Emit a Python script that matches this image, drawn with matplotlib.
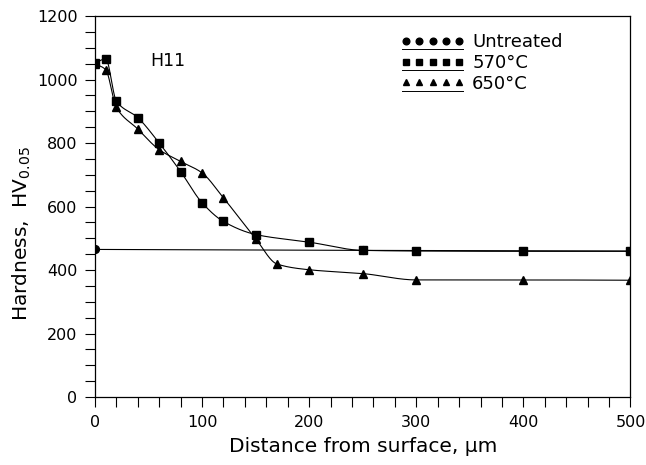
import numpy as np
import matplotlib
matplotlib.use("Agg")
import matplotlib.pyplot as plt
from matplotlib.lines import Line2D
from matplotlib.legend_handler import HandlerBase
from matplotlib.ticker import MultipleLocator

# ---- data ----
untreated_x = [0, 250, 500]
untreated_y = [465, 462, 460]

t570_x = [0, 10, 20, 40, 60, 80, 100, 120, 150, 200, 250, 300, 400, 500]
t570_y = [1052, 1065, 932, 880, 800, 710, 612, 553, 512, 488, 462, 460, 459, 459]

t650_x = [0, 10, 20, 40, 60, 80, 100, 120, 150, 170, 200, 250, 300, 400, 500]
t650_y = [1050, 1031, 912, 844, 779, 742, 706, 627, 499, 419, 401, 389, 369, 369, 368]

series_labels = ["Untreated", "570°C", "650°C"]


def pchip(x, y, xs):
    x = np.asarray(x, float); y = np.asarray(y, float)
    h = np.diff(x); d = np.diff(y) / h
    n = len(x); m = np.zeros(n)
    for k in range(1, n - 1):
        if d[k - 1] * d[k] > 0:
            w1 = 2 * h[k] + h[k - 1]; w2 = h[k] + 2 * h[k - 1]
            m[k] = (w1 + w2) / (w1 / d[k - 1] + w2 / d[k])
    m[0] = d[0]; m[-1] = d[-1]
    idx = np.clip(np.searchsorted(x, xs) - 1, 0, n - 2)
    t = (xs - x[idx]) / h[idx]
    h00 = 2 * t**3 - 3 * t**2 + 1; h10 = t**3 - 2 * t**2 + t
    h01 = -2 * t**3 + 3 * t**2; h11 = t**3 - t**2
    return h00 * y[idx] + h10 * h[idx] * m[idx] + h01 * y[idx + 1] + h11 * h[idx] * m[idx + 1]


plt.rcParams['font.family'] = ['DejaVu Sans']
fig = plt.figure(figsize=(6.46, 4.65), dpi=100)
ax = fig.add_axes([0.147, 0.146, 0.829, 0.8196])

lw = 0.8
ax.plot(untreated_x, untreated_y, color='k', lw=lw, zorder=2)

xs570 = np.linspace(0, 500, 2001)
ax.plot(xs570, pchip(t570_x, t570_y, xs570), color='k', lw=lw, zorder=2)
ax.plot(t570_x, t570_y, ls='none', marker='s', ms=5.2, color='k', zorder=3)

xs650 = np.linspace(0, 500, 2001)
ax.plot(xs650, pchip(t650_x, t650_y, xs650), color='k', lw=lw, zorder=2)
ax.plot(t650_x, t650_y, ls='none', marker='^', ms=5.8, color='k', zorder=3)

ax.plot(untreated_x, untreated_y, ls='none', marker='o', ms=5.6, color='k', zorder=4)

ax.set_xlim(0, 500)
ax.set_ylim(0, 1200)
ax.xaxis.set_major_locator(MultipleLocator(100))
ax.xaxis.set_minor_locator(MultipleLocator(20))
ax.yaxis.set_major_locator(MultipleLocator(200))
ax.yaxis.set_minor_locator(MultipleLocator(50))
ax.tick_params(which='both', direction='out', length=7, width=0.8, top=False, right=False,
               labelsize=11.5, color='k')
ax.tick_params(axis='x', pad=6)
ax.tick_params(axis='y', pad=5.5)
for s in ax.spines.values():
    s.set_linewidth(0.9)
ax.set_xlabel("Distance from surface, µm", fontsize=14.5, labelpad=5)
ax.set_ylabel("Hardness,  HV$_{\\mathregular{0.05}}$", fontsize=14.5, labelpad=6)
ax.yaxis.set_label_coords(-0.115, 0.43)

ax.text(52, 1057, "H11", fontsize=12.5, va='center', ha='left')


class UnderlineHandler(HandlerBase):
    def create_artists(self, legend, orig_handle, xdescent, ydescent, width, height, fontsize, trans):
        xs = np.linspace(-xdescent + 3, -xdescent + width - 3, 5)
        yc = -ydescent + height * 0.5
        mk = Line2D(xs, [yc] * 5, ls='none', marker=orig_handle.get_marker(), ms=4.8,
                    color='k', transform=trans)
        ul = Line2D([-xdescent, -xdescent + width], [yc - 6.0] * 2, lw=0.7,
                    color='k', transform=trans)
        return [mk, ul]


handles = [Line2D([], [], marker='o', ls='none'),
           Line2D([], [], marker='s', ls='none'),
           Line2D([], [], marker='^', ls='none')]
ax.legend(handles, series_labels, loc='upper left', bbox_to_anchor=(0.573, 0.955),
          frameon=False, fontsize=13, handlelength=3.4, handletextpad=0.5,
          labelspacing=0.15, borderaxespad=0, borderpad=0,
          handler_map={Line2D: UnderlineHandler()})

fig.savefig("out.png", dpi=100)
